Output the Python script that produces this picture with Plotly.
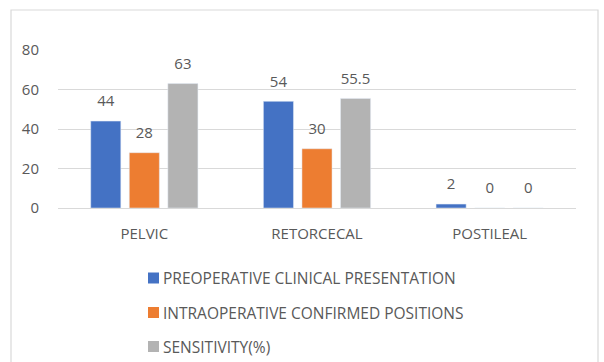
import plotly.graph_objects as go

# Appendix positions and the three measured series
categories = ["PELVIC", "RETORCECAL", "POSTILEAL"]
series_names = [
    "PREOPERATIVE CLINICAL PRESENTATION",
    "INTRAOPERATIVE CONFIRMED POSITIONS",
    "SENSITIVITY(%)",
]
preoperative = [44, 54, 2]
intraoperative = [28, 30, 0]
sensitivity = [63, 55.5, 0]
y_ticks = [0, 20, 40, 60, 80]

colors = ["#4472C4", "#ED7D31", "#B3B3B3"]
text_color = "#595959"
grid_color = "#D9D9D9"
font_family = "Open Sans"

W, H = 604, 362
margin = dict(l=58, r=28, t=50, b=154)
plot_w = W - margin["l"] - margin["r"]
plot_h = H - margin["t"] - margin["b"]


def px_x(x):
    return (x - margin["l"]) / plot_w


def px_y(y):
    return (H - margin["b"] - y) / plot_h


fig = go.Figure()
all_values = [preoperative, intraoperative, sensitivity]
for i, (name, vals, col) in enumerate(zip(series_names, all_values, colors)):
    fig.add_trace(go.Bar(
        x=categories, y=vals, name=name, marker_color=col,
        offsetgroup=str(i), showlegend=False, hoverinfo="skip",
    ))
    # value labels floating above each bar (an invisible marker pads them upward)
    fig.add_trace(go.Scatter(
        x=categories, y=vals, mode="markers+text", text=[f"{v:g}" for v in vals],
        textposition="top center", offsetgroup=str(i),
        marker=dict(size=16, color="rgba(0,0,0,0)"),
        textfont=dict(family=font_family, size=15, color=text_color),
        showlegend=False, hoverinfo="skip", cliponaxis=False,
    ))

shapes = [
    # outer chart frame
    dict(type="rect", xref="paper", yref="paper",
         x0=px_x(11), x1=px_x(598), y0=px_y(380), y1=px_y(10),
         line=dict(color=grid_color, width=1.2), fillcolor="rgba(0,0,0,0)",
         layer="below"),
]
annotations = []
row_y = [278, 312.5, 346.5]
for name, col, ry in zip(series_names, colors, row_y):
    shapes.append(dict(type="rect", xref="paper", yref="paper",
                       x0=px_x(148), x1=px_x(159), y0=px_y(ry + 5.5), y1=px_y(ry - 5.5),
                       line=dict(width=0), fillcolor=col))
    annotations.append(dict(xref="paper", yref="paper", x=px_x(161), y=px_y(ry),
                            xanchor="left", yanchor="middle", showarrow=False,
                            text=name, font=dict(family=font_family, size=15.5, color=text_color)))

fig.update_layout(
    width=W, height=H, margin=margin,
    paper_bgcolor="white", plot_bgcolor="white",
    barmode="group", bargap=0.33, bargroupgap=0.22,
    scattermode="group", scattergap=0.33,
    font=dict(family=font_family, size=15, color=text_color),
    shapes=shapes, annotations=annotations,
    showlegend=False,
)
fig.update_xaxes(showgrid=False, showline=False, zeroline=False, ticks="",
                 tickfont=dict(size=15, color=text_color), ticklabelstandoff=15)
fig.update_yaxes(range=[0, 80], tickvals=y_ticks, showgrid=True, gridcolor=grid_color,
                 gridwidth=1.2, zeroline=True, zerolinecolor=grid_color, zerolinewidth=1.2,
                 showline=False, ticks="", tickfont=dict(size=15, color=text_color),
                 ticklabelstandoff=18)

fig.write_html("out.html")
